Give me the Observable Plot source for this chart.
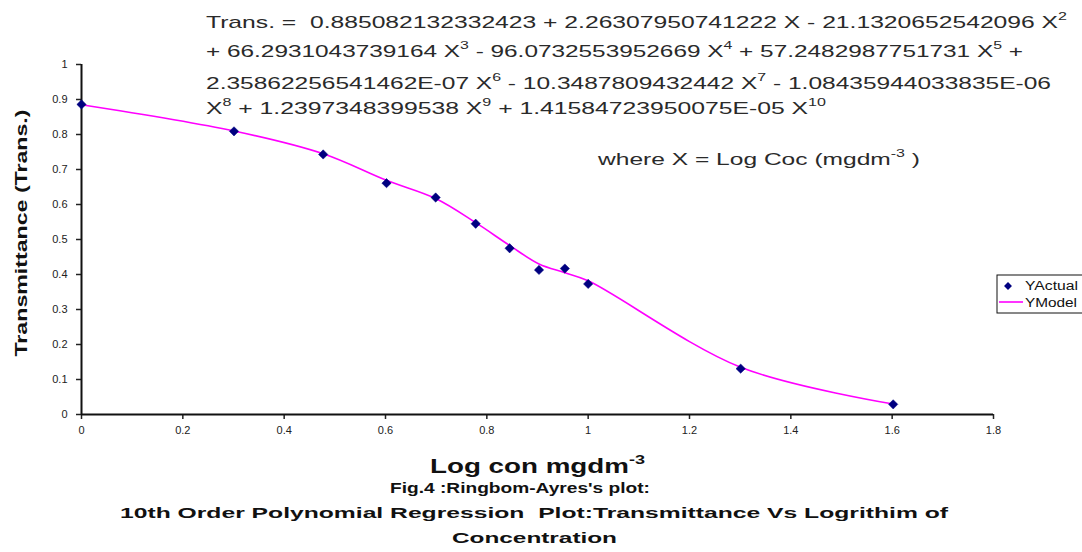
<!DOCTYPE html>
<html><head><meta charset="utf-8">
<script src="https://cdn.jsdelivr.net/npm/d3@7"></script>
<script src="https://cdn.jsdelivr.net/npm/@observablehq/plot@0.6"></script>
<style>html,body{margin:0;padding:0;background:#fff;} #chart{width:1082px;height:552px;}</style>
</head><body><div id="chart"></div>
<script>
// Data
const logConc = [0, 0.301, 0.477, 0.602, 0.699, 0.778, 0.845, 0.903, 0.954, 1.0, 1.301, 1.602];
const yActual = [0.886, 0.809, 0.743, 0.661, 0.62, 0.545, 0.475, 0.413, 0.417, 0.373, 0.131, 0.029];
const yModel  = [0.885, 0.81, 0.745, 0.669, 0.617, 0.548, 0.483, 0.43, 0.405, 0.382, 0.135, 0.03];
const xTicks = [0, 0.2, 0.4, 0.6, 0.8, 1, 1.2, 1.4, 1.6, 1.8];
const yTicks = [0, 0.1, 0.2, 0.3, 0.4, 0.5, 0.6, 0.7, 0.8, 0.9, 1];
const seriesNames = ["YActual", "YModel"];
const equationLines = [
  "Trans. =  0.885082132332423 + 2.26307950741222 X - 21.1320652542096 X^{2}",
  "+ 66.2931043739164 X^{3} - 96.0732553952669 X^{4} + 57.2482987751731 X^{5} +",
  "2.35862256541462E-07 X^{6} - 10.3487809432442 X^{7} - 1.08435944033835E-06",
  "X^{8} + 1.2397348399538 X^{9} + 1.41584723950075E-05 X^{10}"
];
const whereText = "where X = Log Coc (mgdm^{-3} )";
const xLabel = "Log con mgdm^{-3}";
const yLabel = "Transmittance (Trans.)";
const captionLines = [
  "Fig.4 :Ringbom-Ayres's plot:",
  "10th Order Polynomial Regression  Plot:Transmittance Vs Logrithim of",
  "Concentration"
];

const actual = logConc.map((x, i) => ({x, y: yActual[i]}));
const model = logConc.map((x, i) => ({x, y: yModel[i]}));

const font = "'Liberation Sans', Arial, sans-serif";
const svg = Plot.plot({
  width: 1082, height: 552,
  marginLeft: 81, marginRight: 89, marginTop: 64, marginBottom: 138,
  x: {domain: [0, 1.8]},
  y: {domain: [0, 1]},
  style: {fontFamily: font, background: "#fff", overflow: "visible"},
  marks: [
    Plot.axisX({ticks: xTicks, tickSize: 5, tickPadding: 7, fontSize: 11, color: "#222", label: null, tickFormat: d => String(d), strokeWidth: 1.5}),
    Plot.axisY({ticks: yTicks, tickSize: 5, tickPadding: 9, fontSize: 11, color: "#222", label: null, tickFormat: d => String(d), strokeWidth: 1.5}),
    Plot.ruleY([0], {stroke: "#111", strokeWidth: 2}),
    Plot.ruleX([0], {stroke: "#111", strokeWidth: 2}),
    Plot.line(model, {x: "x", y: "y", stroke: "#ff00ff", strokeWidth: 1.6, curve: "catmull-rom"}),
    Plot.dot(actual, {x: "x", y: "y", symbol: "diamond2", r: 4.2, fill: "#000080", stroke: "#000080", strokeWidth: 0.5})
  ]
});
document.getElementById("chart").appendChild(svg);

const root = d3.select(svg);
function richText(str, x, y, o) {
  const t = root.append("text").attr("x", x).attr("y", y)
    .attr("font-size", o.size).attr("fill", o.fill || "#222")
    .attr("font-weight", o.weight || "normal").attr("font-family", font)
    .attr("text-anchor", o.anchor || "start")
    .style("white-space", "pre");
  if (o.transform) t.attr("transform", o.transform);
  const parts = str.split(/\^\{([^}]*)\}/);
  let raised = false;
  parts.forEach((p, i) => {
    if (!p) return;
    const ts = t.append("tspan").text(p);
    if (i % 2 === 1) { ts.attr("font-size", o.size * 0.65).attr("dy", -o.size * 0.45); raised = true; }
    else if (raised) { ts.attr("dy", o.size * 0.45); raised = false; }
  });
  if (o.len) t.attr("textLength", o.len).attr("lengthAdjust", "spacingAndGlyphs");
  return t;
}

// Equation
const eqBase = [28, 57, 89, 114];
const eqLen = [861, 817, 845, 620];
equationLines.forEach((s, i) => richText(s, 206, eqBase[i], {size: 17, fill: "#2a2a2a", len: eqLen[i]}));
richText(whereText, 598, 165, {size: 17, fill: "#2a2a2a", len: 322});

// Axis titles
richText(xLabel, 430, 473, {size: 20, weight: "bold", fill: "#111", len: 215});
richText(yLabel, -233, 27, {size: 17, weight: "bold", fill: "#111", anchor: "middle", transform: "rotate(-90)", len: 247});

// Caption
richText(captionLines[0], 390, 493, {size: 15, weight: "bold", fill: "#111", len: 260});
richText(captionLines[1], 120, 518, {size: 15, weight: "bold", fill: "#111", len: 828});
richText(captionLines[2], 452, 543, {size: 15, weight: "bold", fill: "#111", len: 165});

// Legend
const lg = root.append("g");
lg.append("rect").attr("x", 997).attr("y", 275).attr("width", 95).attr("height", 38)
  .attr("fill", "#fff").attr("stroke", "#111").attr("stroke-width", 1);
lg.append("path").attr("d", d3.symbol(d3.symbolDiamond2, 40)()).attr("transform", "translate(1008,286)").attr("fill", "#000080");
lg.append("line").attr("x1", 999).attr("x2", 1023).attr("y1", 302).attr("y2", 302).attr("stroke", "#ff00ff").attr("stroke-width", 1.6);
richText(seriesNames[0], 1025, 290, {size: 12, fill: "#111", len: 53});
richText(seriesNames[1], 1025, 307, {size: 12, fill: "#111", len: 52});
</script>
</body></html>
